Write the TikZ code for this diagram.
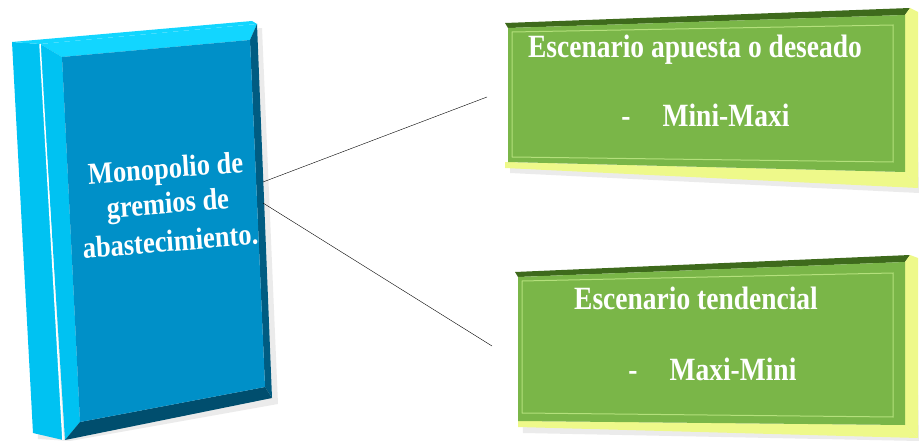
\documentclass[tikz,border=0pt]{standalone}
\usepackage{fontspec}
\setmainfont{Liberation Serif}
\usetikzlibrary{positioning}

\definecolor{spine}{HTML}{00C2F2}
\definecolor{toplight}{HTML}{12D6FF}
\definecolor{face}{HTML}{0090C8}
\definecolor{darkside}{HTML}{005C82}
\definecolor{darkbottom}{HTML}{004E6E}
\definecolor{leaf}{HTML}{7AB648}
\definecolor{leafdark}{HTML}{3E6A1C}
\definecolor{leafline}{HTML}{B4E07C}
\definecolor{paleyellow}{HTML}{EEF98A}

\begin{document}
\begin{tikzpicture}[x=1pt,y=-1pt,
  words/.style={text=white, font=\bfseries\fontsize{26.5}{30.5}\selectfont, inner sep=0pt, yscale=1.15, rotate=4},
  boxwords/.style={text=white, font=\bfseries\fontsize{27.5}{30}\selectfont, anchor=base, yscale=1.18},
  shade/.style={fill=black, opacity=0.08}]

  \useasboundingbox (0,0) rectangle (919,441);

  % soft shadows
  \fill[shade] (18,48) -- (262,28) -- (278,404) -- (70,441) -- (38,439) -- cycle;
  \fill[shade] (510,28) -- (916,13) -- (919,193) -- (510,173) -- cycle;
  \fill[shade] (521,277) -- (916,260) -- (919,441) -- (523,433) -- cycle;

  % book
  \fill[spine] (12,42) -- (40,44) -- (63,440) -- (33,433) -- cycle;
  \fill[toplight] (12,42) -- (252,21) -- (257,24) -- (40,44) -- cycle;
  \fill[toplight] (40,44) -- (257,24) -- (250,40) -- (62,57) -- cycle;
  \fill[spine] (40,44) -- (62,57) -- (80,422) -- (65,440) -- cycle;
  \fill[darkside] (257,24) -- (272,398) -- (265,387) -- (250,40) -- cycle;
  \fill[darkbottom] (65,440) -- (80,422) -- (265,387) -- (272,398) -- cycle;
  \fill[face] (62,57) -- (250,40) -- (265,387) -- (80,422) -- cycle;
  \draw[white, line width=1.5pt] (40,44) -- (63,440);

  \node[words] (monopolio) at (165.6,171) {Monopolio de};
  \node[words] (gremios) at (168,206) {gremios de};
  \node[words] (abasto) at (170.4,241) {abastecimiento.};

  % upper box
  \fill[leafdark] (505,23) -- (910,8) -- (905,15) -- (508,28) -- cycle;
  \fill[paleyellow] (910,8) -- (918,12) -- (918,188) -- (905,172) -- (905,15) -- cycle;
  \fill[paleyellow] (505,162) -- (905,172) -- (918,188) -- (505,168) -- cycle;
  \fill[leaf] (508,28) -- (905,15) -- (905,172) -- (508,162) -- cycle;
  \draw[leafline, line width=1pt] (512,32) -- (893,25) -- (893,162) -- (512,157) -- cycle;

  \node[boxwords] (apuesta) at (695,58) {Escenario apuesta o deseado};
  \node[boxwords] (guion1) at (626,127) {-};
  \node[boxwords] (minimaxi) at (726,127) {Mini-Maxi};

  % lower box
  \fill[leafdark] (515,272) -- (910,255) -- (905,262) -- (518,277) -- cycle;
  \fill[paleyellow] (910,255) -- (918,258) -- (918,438) -- (905,425) -- (905,262) -- cycle;
  \fill[paleyellow] (518,421) -- (905,425) -- (918,438) -- (518,427) -- cycle;
  \fill[leaf] (518,277) -- (905,262) -- (905,425) -- (518,421) -- cycle;
  \draw[leafline, line width=1pt] (522,281) -- (893,273) -- (893,417) -- (522,413) -- cycle;

  \node[boxwords] (tendencial) at (696,309) {Escenario tendencial};
  \node[boxwords] (guion2) at (633,380) {-};
  \node[boxwords] (maximini) at (733,380) {Maxi-Mini};

  % connectors
  \coordinate (bookA) at (263,182);
  \coordinate (bookB) at (263,203);
  \coordinate (upA) at (487,97);
  \coordinate (lowB) at (492,346);
  \draw (bookA) -- (upA);
  \draw (bookB) -- (lowB);

\end{tikzpicture}
\end{document}
